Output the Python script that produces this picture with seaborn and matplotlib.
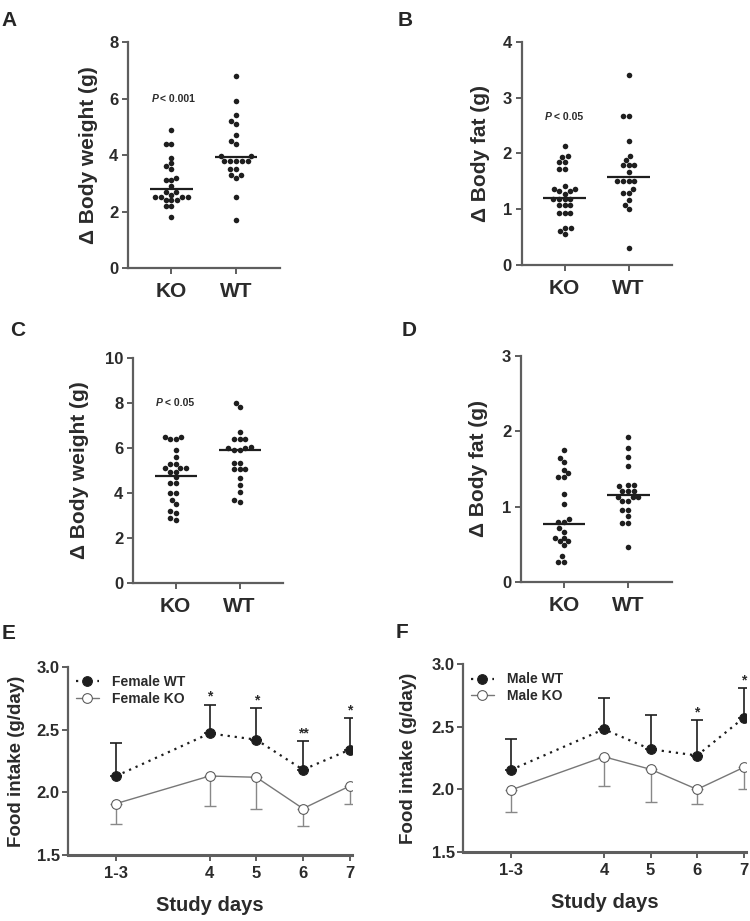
import numpy as np
import pandas as pd
import seaborn as sns
import matplotlib.pyplot as plt

sns.set_style('white')
plt.rcParams['font.family'] = ['Liberation Sans', 'DejaVu Sans']
plt.rcParams['font.weight'] = 'bold'

# scatter data
groups = ['KO', 'WT']

a_ko = [4.9, 4.4, 4.4, 3.9, 3.7, 3.6, 3.5, 3.2, 3.1, 3.1, 2.9, 2.7, 2.7, 2.6,
        2.5, 2.5, 2.5, 2.5, 2.4, 2.4, 2.4, 2.2, 2.2, 1.8]
a_wt = [6.8, 5.9, 5.4, 5.2, 5.1, 4.7, 4.5, 4.4, 3.95, 3.95, 3.8, 3.8, 3.8, 3.8,
        3.8, 3.5, 3.5, 3.3, 3.3, 3.2, 2.5, 1.7]
b_ko = [2.14, 1.96, 1.94, 1.85, 1.85, 1.73, 1.73, 1.42, 1.37, 1.37, 1.32, 1.32,
        1.28, 1.18, 1.18, 1.18, 1.18, 1.08, 1.08, 1.08, 0.93, 0.93, 0.93, 0.66,
        0.66, 0.61, 0.55]
b_wt = [3.41, 2.67, 2.67, 2.22, 1.95, 1.88, 1.79, 1.79, 1.79, 1.67, 1.51, 1.51,
        1.51, 1.51, 1.36, 1.29, 1.29, 1.17, 1.08, 1.0, 0.3]
c_ko = [6.5, 6.5, 6.4, 6.4, 5.9, 5.6, 5.3, 5.3, 5.1, 5.1, 5.1, 4.95, 4.95, 4.7,
        4.43, 4.43, 4.0, 4.0, 3.7, 3.5, 3.2, 3.1, 2.9, 2.8]
c_wt = [8.0, 7.8, 6.7, 6.4, 6.4, 6.4, 6.05, 6.0, 6.0, 5.9, 5.9, 5.35, 5.35,
        5.05, 5.05, 5.05, 4.65, 4.35, 4.05, 3.7, 3.6]
d_ko = [1.75, 1.64, 1.59, 1.49, 1.44, 1.39, 1.39, 1.17, 1.04, 0.84, 0.8, 0.8,
        0.71, 0.67, 0.59, 0.59, 0.54, 0.54, 0.49, 0.34, 0.27, 0.27]
d_wt = [1.92, 1.78, 1.66, 1.54, 1.29, 1.29, 1.27, 1.21, 1.21, 1.21, 1.13, 1.13,
        1.13, 1.08, 1.08, 0.96, 0.96, 0.88, 0.78, 0.78, 0.46]

# center lines
a_mid = [2.8, 3.92]
b_mid = [1.21, 1.58]
c_mid = [4.77, 5.92]
d_mid = [0.77, 1.16]

# food intake data
days = [2, 4, 5, 6, 7]
day_labels = ['1-3', '4', '5', '6', '7']
e_wt = [2.13, 2.47, 2.42, 2.18, 2.34]
e_wt_err = [0.26, 0.23, 0.25, 0.23, 0.25]
e_ko = [1.91, 2.13, 2.12, 1.87, 2.05]
e_ko_err = [0.165, 0.24, 0.255, 0.135, 0.145]
e_stars = ['', '*', '*', '**', '*']
f_wt = [2.155, 2.48, 2.32, 2.27, 2.57]
f_wt_err = [0.25, 0.25, 0.27, 0.28, 0.24]
f_ko = [1.995, 2.26, 2.16, 2.0, 2.175]
f_ko_err = [0.175, 0.23, 0.26, 0.12, 0.17]
f_stars = ['', '', '', '*', '*']

spine_col = '#5e5e5e'
text_col = '#2b2b2b'

fig = plt.figure(figsize=(7.5, 9.21), dpi=100)


def style_axes(ax):
    sns.despine(ax=ax)
    for s in ['left', 'bottom']:
        ax.spines[s].set_color(spine_col)
        ax.spines[s].set_linewidth(1.6)
    ax.tick_params(colors=spine_col, labelcolor=text_col, width=1.4, length=4,
                   direction='out', left=True, bottom=True)


def scatter_panel(rect, ko, wt, mid, ymax, yticks, ylabel, ptext, label, lx, ly, labx):
    ax = fig.add_axes(rect)
    df = pd.DataFrame({'group': ['KO'] * len(ko) + ['WT'] * len(wt),
                       'value': ko + wt})
    sns.swarmplot(data=df, x='group', y='value', order=groups, color='#1e1e1e',
                  size=4, ax=ax)
    for i, m in enumerate(mid):
        ax.hlines(m, i - 0.33, i + 0.33, color='#1e1e1e', lw=1.6, zorder=3)
    ax.set_xlim(-0.67, 1.68)
    ax.set_ylim(0, ymax)
    ax.set_yticks(yticks)
    ax.set_xlabel('')
    ax.set_ylabel(ylabel, fontsize=15, fontweight='bold', color=text_col)
    ax.yaxis.set_label_coords(labx, 0.5)
    style_axes(ax)
    ax.tick_params(axis='y', labelsize=12, pad=3)
    ax.tick_params(axis='x', labelsize=15, pad=6)
    for t in ax.get_xticklabels() + ax.get_yticklabels():
        t.set_fontweight('bold')
    if ptext:
        ax.text(-0.2, ptext[1], 'P', fontsize=7.5, fontweight='bold',
                fontstyle='italic', color=text_col, ha='right', va='center')
        ax.text(-0.17, ptext[1], ptext[0], fontsize=7.5, fontweight='bold',
                color=text_col, ha='left', va='center')
    fig.text(lx, ly, label, fontsize=15, fontweight='bold', va='top')
    return ax


scatter_panel([0.1707, 0.709, 0.2027, 0.2454], a_ko, a_wt, a_mid, 8, [0, 2, 4, 6, 8],
              '\u0394 Body weight (g)', ('< 0.001', 6.0), 'A', 0.002, 0.988, -0.2)
scatter_panel([0.6956, 0.7123, 0.2004, 0.2421], b_ko, b_wt, b_mid, 4, [0, 1, 2, 3, 4],
              '\u0394 Body fat (g)', ('< 0.05', 2.65), 'B', 0.53, 0.988, -0.21)
scatter_panel([0.1773, 0.367, 0.2, 0.2443], c_ko, c_wt, c_mid, 10, [0, 2, 4, 6, 8, 10],
              '\u0394 Body weight (g)', ('< 0.05', 8.0), 'C', 0.013, 0.652, -0.29)
scatter_panel([0.6947, 0.3681, 0.2013, 0.2454], d_ko, d_wt, d_mid, 3, [0, 1, 2, 3],
              '\u0394 Body fat (g)', None, 'D', 0.535, 0.652, -0.22)


def intake_panel(rect, wt, wt_err, ko, ko_err, stars, sex, label, lx, ly, labx):
    ax = fig.add_axes(rect)
    df = pd.DataFrame({'day': days * 2, 'intake': wt + ko,
                       'group': [sex + ' WT'] * 5 + [sex + ' KO'] * 5})
    zeros = np.zeros(len(days))
    ax.errorbar(days, wt, yerr=[zeros, wt_err], fmt='none', ecolor='#1e1e1e',
                elinewidth=1.2, capsize=4, capthick=1.2, zorder=2)
    ax.errorbar(days, ko, yerr=[ko_err, zeros], fmt='none', ecolor='#888888',
                elinewidth=1.0, capsize=4, capthick=1.0, zorder=2)
    sns.lineplot(data=df[df['group'] == sex + ' WT'], x='day', y='intake', ax=ax,
                 color='#1e1e1e', linestyle=(0, (1, 2.2)), lw=1.6, marker='o',
                 markersize=7, markerfacecolor='#1e1e1e', markeredgecolor='#1e1e1e',
                 label=sex + ' WT', zorder=4)
    sns.lineplot(data=df[df['group'] == sex + ' KO'], x='day', y='intake', ax=ax,
                 color='#777777', linestyle='-', lw=1.0, marker='o',
                 markersize=7, markerfacecolor='white', markeredgecolor='#555555',
                 label=sex + ' KO', zorder=4)
    for x, y, e, s in zip(days, wt, wt_err, stars):
        if s:
            ax.text(x, y + e + 0.005, s, ha='center', va='bottom', fontsize=10,
                    fontweight='bold', color=text_col)
    ax.set_xlim(0.97, 7.05)
    ax.set_ylim(1.5, 3.0)
    ax.set_xticks(days)
    ax.set_xticklabels(day_labels)
    ax.set_yticks([1.5, 2.0, 2.5, 3.0])
    ax.set_yticklabels(['1.5', '2.0', '2.5', '3.0'])
    ax.set_xlabel('Study days', fontsize=14.5, fontweight='bold', color=text_col)
    ax.set_ylabel('Food intake (g/day)', fontsize=13.5, fontweight='bold', color=text_col)
    ax.xaxis.set_label_coords(0.5, -0.22)
    ax.yaxis.set_label_coords(labx, 0.5)
    style_axes(ax)
    ax.spines['bottom'].set_linewidth(2.2)
    ax.tick_params(axis='y', labelsize=12, pad=2)
    ax.tick_params(axis='x', labelsize=12, pad=4)
    for t in ax.get_xticklabels() + ax.get_yticklabels():
        t.set_fontweight('bold')
    leg = ax.legend(loc='upper left', frameon=False, handlelength=1.6,
                    handletextpad=1.0, borderaxespad=0.2, labelspacing=0.2,
                    prop={'weight': 'bold', 'size': 10})
    for t in leg.get_texts():
        t.set_color(text_col)
    fig.text(lx, ly, label, fontsize=15, fontweight='bold', va='top')
    return ax


intake_panel([0.0907, 0.0717, 0.3787, 0.2041], e_wt, e_wt_err, e_ko, e_ko_err,
             e_stars, 'Female', 'E', 0.002, 0.322, -0.15)
intake_panel([0.6173, 0.0749, 0.3773, 0.2041], f_wt, f_wt_err, f_ko, f_ko_err,
             f_stars, 'Male', 'F', 0.528, 0.324, -0.163)

fig.savefig('out.png', dpi=100)
